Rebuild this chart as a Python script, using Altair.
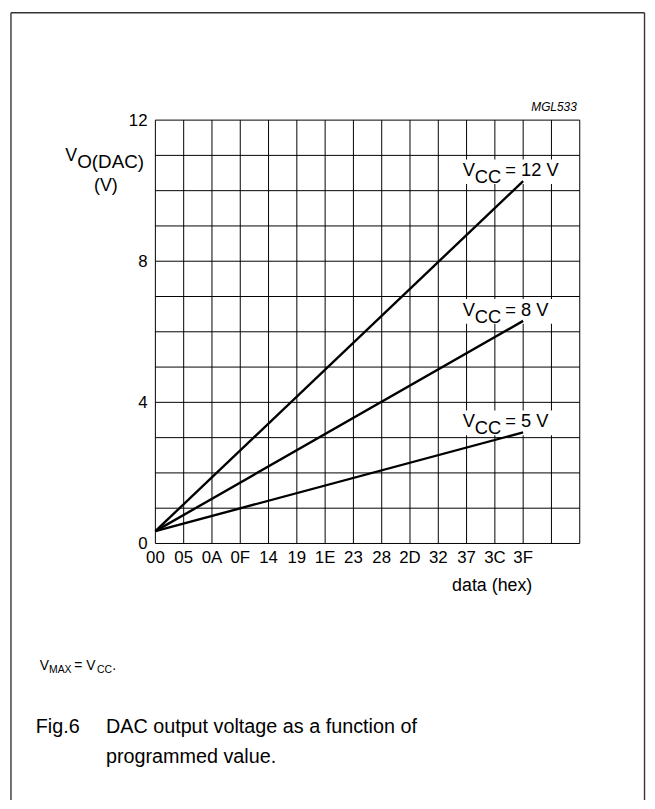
import altair as alt
import pandas as pd

FONT = "Liberation Sans"

# ---- data ----
hex_labels = ["00", "05", "0A", "0F", "14", "19", "1E", "23", "28", "2D", "32", "37", "3C", "3F"]
x_grid = list(range(0, 16))          # column lines (index positions)
y_grid = list(range(0, 13))          # 1 V rows
y_ticks = [0, 4, 8, 12]

series = ["12 V", "8 V", "5 V"]
start_x = [0, 0, 0]
start_v = [0.35, 0.35, 0.35]
end_x = [13, 13, 13]
end_v = [10.27, 6.31, 3.15]

W, H = 429, 428

lines_df = pd.DataFrame({
    "series": series * 2,
    "x": start_x + end_x,
    "v": start_v + end_v,
    "order": [0] * 3 + [1] * 3,
})
lab_df = pd.DataFrame({"series": series, "x": end_x, "v": end_v,
                       "eq": ["= " + s for s in series]})
vgrid_df = pd.DataFrame({"x": x_grid})
hgrid_df = pd.DataFrame({"v": y_grid})
xtick_df = pd.DataFrame({"x": list(range(len(hex_labels))), "lab": hex_labels})
ytick_df = pd.DataFrame({"v": y_ticks, "lab": [str(t) for t in y_ticks]})

xs = alt.Scale(domain=[0, 15], nice=False, zero=False)
ys = alt.Scale(domain=[0, 12], nice=False, zero=False)


def X(f="x"):
    return alt.X(f + ":Q", scale=xs, axis=None)


def Y(f="v"):
    return alt.Y(f + ":Q", scale=ys, axis=None)


vgrid = alt.Chart(vgrid_df).mark_rule(color="black", strokeWidth=1).encode(x=X())
hgrid = alt.Chart(hgrid_df).mark_rule(color="black", strokeWidth=1).encode(y=Y())

xticks = alt.Chart(xtick_df).mark_text(
    align="center", baseline="alphabetic", fontSize=17, font=FONT, color="black"
).encode(x=X(), y=alt.value(H + 19.5), text="lab:N")
yticks = alt.Chart(ytick_df).mark_text(
    align="right", baseline="middle", fontSize=17, font=FONT, color="black", dy=0.5
).encode(x=alt.value(-8), y=Y(), text="lab:N")

boxes = alt.Chart(lab_df).mark_rect(
    color="white", xOffset=-64, x2Offset=39, yOffset=-22, y2Offset=3
).encode(x=X(), x2=alt.X2("x"), y=Y(), y2=alt.Y2("v"))

lines = alt.Chart(lines_df).mark_line(color="black", strokeWidth=2.4).encode(
    x=X(), y=Y(), detail="series:N", order="order:Q")


def lab_text(text_enc, dx, dy, size=18.5):
    return alt.Chart(lab_df).mark_text(
        align="left", baseline="alphabetic", dx=dx, dy=dy, fontSize=size,
        font=FONT, color="black"
    ).encode(x=X(), y=Y(), text=text_enc)


t_v = lab_text(alt.value("V"), -61, -5)
t_cc = lab_text(alt.value("CC"), -49, 2)
t_eq = lab_text(alt.Text("eq:N"), -18, -5)

one = pd.DataFrame({"a": [0]})


def note(text, x, y, size, align="left", style=None):
    kw = dict(align=align, baseline="alphabetic", fontSize=size, font=FONT, color="black")
    if style:
        kw["fontStyle"] = style
    return alt.Chart(one).mark_text(**kw).encode(
        x=alt.value(x), y=alt.value(y), text=alt.value(text))


notes = [
    note("MGL533", 426, -9, 12, align="right", style="italic"),
    note("V", -91, 41, 18),
    note("O(DAC)", -79, 48, 19),
    note("(V)", -50, 72, 18, align="center"),
    note("data (hex)", 381, 476, 18, align="right"),
    note("V", -117, 556, 14),
    note("MAX", -107.5, 559, 10.5),
    note("= V", -82, 556, 14),
    note("CC", -59, 559, 10.5),
    note(".", -43.5, 556, 14),
    note("Fig.6", -121, 620, 20),
    note("DAC output voltage as a function of", -50, 620, 20),
    note("programmed value.", -50, 650, 20),
]

frame = [
    alt.Chart(one).mark_rule(color="#333333", strokeWidth=1.4).encode(
        x=alt.value(-146), y=alt.value(-108.5), y2=alt.value(690)),
    alt.Chart(one).mark_rule(color="#333333", strokeWidth=1.4).encode(
        x=alt.value(494.5), y=alt.value(-108.5), y2=alt.value(690)),
    alt.Chart(one).mark_rule(color="#333333", strokeWidth=1.4).encode(
        x=alt.value(-146), x2=alt.value(494.5), y=alt.value(-108.5)),
]

chart = alt.layer(
    vgrid, hgrid, xticks, yticks, boxes, lines, t_v, t_cc, t_eq, *notes, *frame
).properties(
    width=W, height=H,
    autosize=alt.AutoSizeParams(type="none"),
    padding={"left": 149, "top": 109, "right": 68, "bottom": 255},
    background="white",
).configure_view(stroke=None)

chart.save("out.html", embed_options={"renderer": "svg", "actions": False})
